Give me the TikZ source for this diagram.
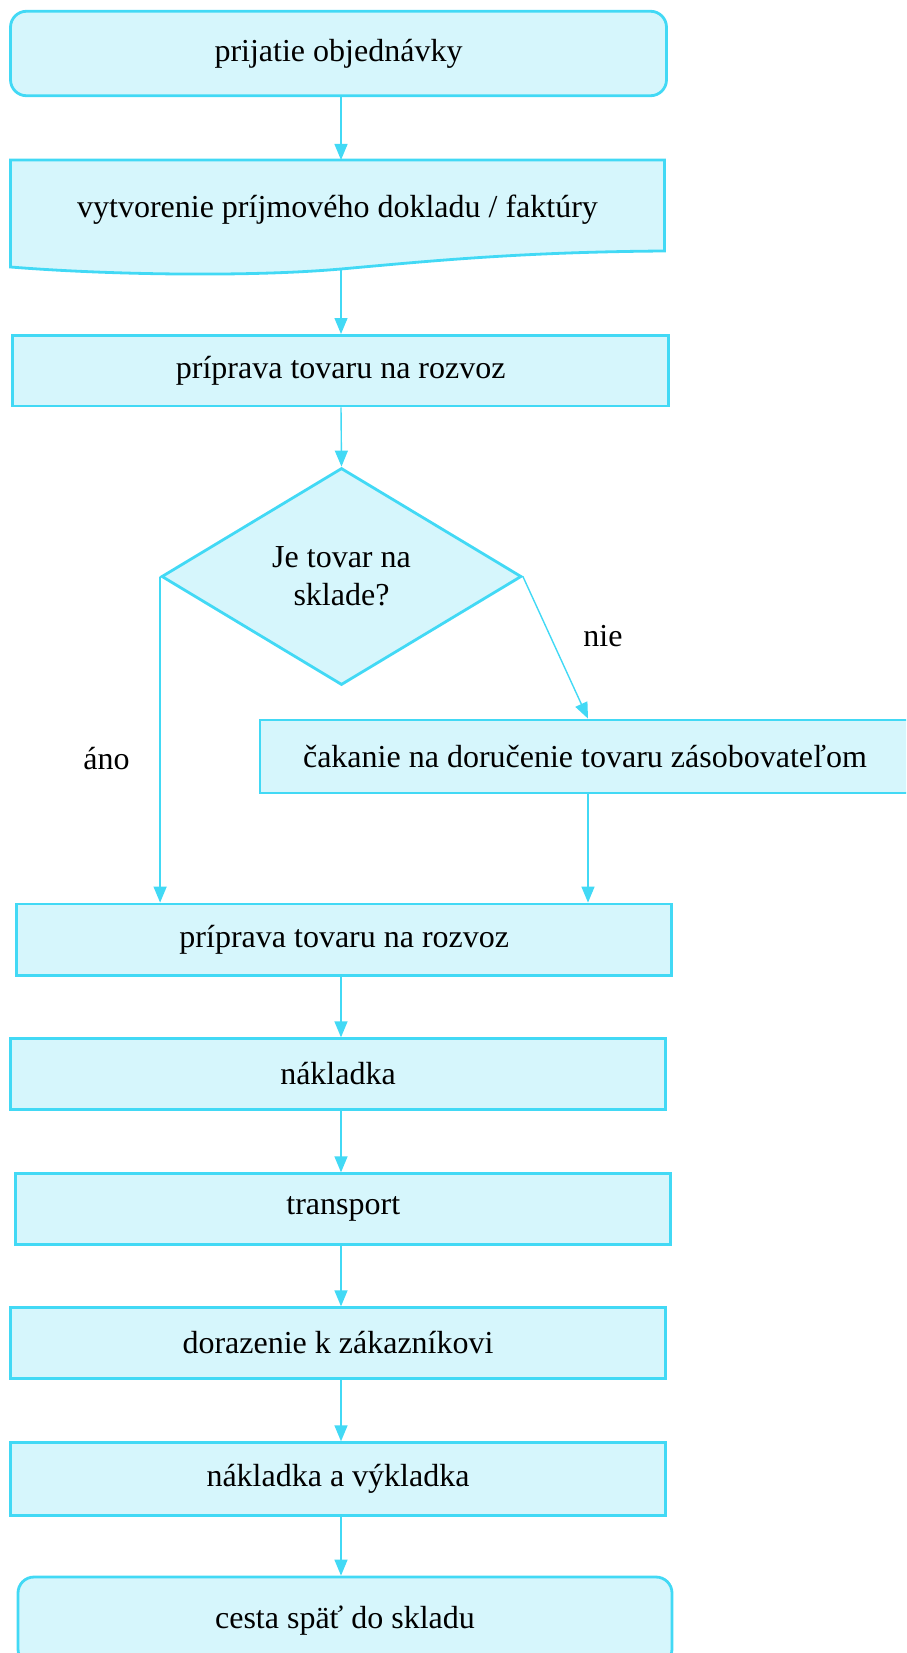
\documentclass[tikz,border=0pt]{standalone}
\usepackage{fontspec}
\setmainfont{Liberation Serif}
\usetikzlibrary{arrows.meta,shapes.geometric}

\definecolor{tyrkys}{RGB}{66,217,245}
\definecolor{svetla}{RGB}{214,246,252}

\tikzset{
  krok/.style={draw=tyrkys, fill=svetla, line width=1.4pt, inner sep=0pt,
    minimum width=327.5pt, minimum height=35.25pt,
    font=\fontsize{16}{19}\selectfont},
  krajny/.style={krok, rounded corners=8pt},
  rozhod/.style={krok, diamond, align=center, minimum width=180pt, minimum height=108.5pt},
  spoj/.style={draw=tyrkys, line width=0.7pt, -{Triangle[width=6.5pt,length=8pt]}},
  popis/.style={font=\fontsize{16}{19}\selectfont}
}

\begin{document}
\begin{tikzpicture}[x=0.5pt, y=-0.5pt]
    \useasboundingbox (0,0) rectangle (906,1653);
    \clip (0,0) rectangle (906,1653);
    \coordinate (osa) at (341,0);
    \coordinate (vpravo) at (588,0);
    % uzly
    \node[krajny, minimum width=328pt, minimum height=42.25pt] (start) at (338.5,53.5) {prijatie objednávky};
    \draw[draw=tyrkys, fill=svetla, line width=1.4pt]
      (10.5,267) -- (10.5,160) -- (664.5,160) -- (664.5,251)
      .. controls (520,252) and (430,261) .. (341,269)
      .. controls (250,277) and (110,275) .. (10.5,267) -- cycle;
    \node[popis] (doklad) at (337.5,210) {vytvorenie príjmového dokladu / faktúry};
    \coordinate (dokladdole) at (341,269);
    \node[krok, minimum width=328pt, minimum height=35.3pt] (priprava) at (340.7,370.7) {príprava tovaru na rozvoz};
    \node[rozhod] (sklad) at (341.5,576.5) {Je tovar na\\sklade?};
    \node[krok, minimum width=325pt, minimum height=36.5pt] (cakanie) at (585,756.5) {čakanie na doručenie tovaru zásobovateľom};
    \node[krok, minimum height=35.8pt] (rozvoz) at (344.3,939.8) {príprava tovaru na rozvoz};
    \node[krok] (nakladka) at (338,1074) {nákladka};
    \node[krok] (transport) at (343.3,1209) {transport};
    \node[krok] (dorazenie) at (338,1343) {dorazenie k zákazníkovi};
    \node[krok, minimum height=36.3pt] (vykladka) at (338,1479) {nákladka a výkladka};
    \node[krajny, minimum width=327pt, minimum height=44pt] (koniec) at (345,1621) {cesta späť do skladu};
    % popisy vetiev
    \node[popis] (ano) at (106.5,759) {áno};
    \node[popis] (nie) at (603,636) {nie};
    % spojnice
    \draw[spoj] (start.south -| osa) -- (osa |- 0,160);
    \draw[spoj] (dokladdole) -- (priprava.north -| osa);
    \draw[spoj] (priprava.south -| osa) -- (sklad.north);
    \draw[spoj] (sklad.west) -- (sklad.west |- rozvoz.north);
    \draw[spoj] (sklad.east) -- (cakanie.north -| vpravo);
    \draw[spoj] (cakanie.south -| vpravo) -- (rozvoz.north -| vpravo);
    \draw[spoj] (rozvoz.south -| osa) -- (nakladka.north -| osa);
    \draw[spoj] (nakladka.south -| osa) -- (transport.north -| osa);
    \draw[spoj] (transport.south -| osa) -- (dorazenie.north -| osa);
    \draw[spoj] (dorazenie.south -| osa) -- (vykladka.north -| osa);
    \draw[spoj] (vykladka.south -| osa) -- (koniec.north -| osa);
\end{tikzpicture}
\end{document}
